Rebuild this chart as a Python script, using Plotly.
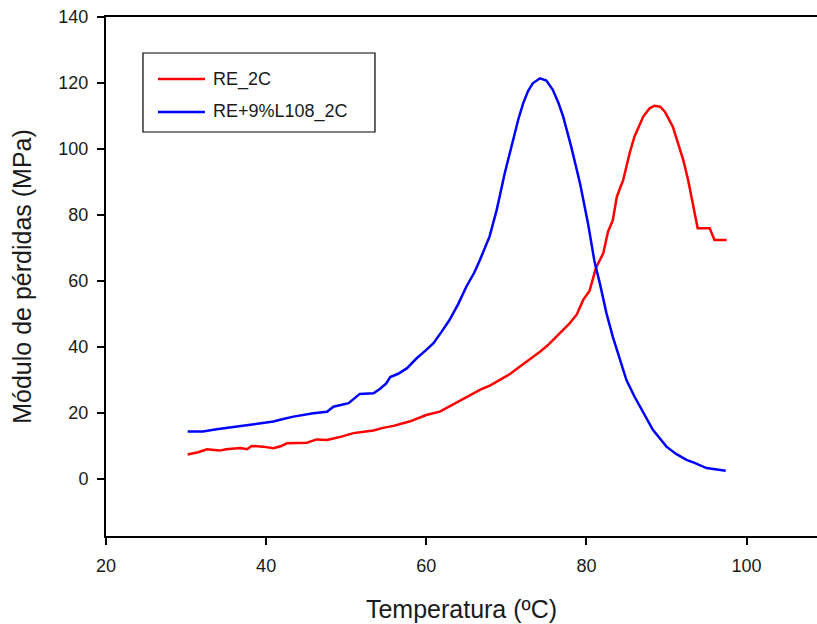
import plotly.graph_objects as go

# RE_2C
re_temp = [30.2, 31.5, 32.6, 33.5, 34.2, 35.0, 35.9, 36.8, 37.6, 38.2, 39.6, 40.9,
           41.8, 42.6, 43.9, 45.1, 46.3, 47.6, 49.2, 50.9, 52.2, 53.4, 54.6, 55.9,
           57.9, 59.0, 60.0, 61.7, 63.0, 64.2, 65.5, 66.7, 68.0, 69.2, 70.5, 71.7,
           73.0, 74.2, 75.2, 76.3, 77.1, 77.9, 78.8, 79.6, 80.4, 80.8, 81.2, 82.1,
           82.7, 83.3, 83.8, 84.6, 85.4, 86.0, 87.1, 87.9, 88.5, 89.2, 89.8, 90.8,
           91.5, 92.1, 92.7, 93.3, 93.9, 95.4, 96.0, 97.5]
re_mod = [7.3, 8.0, 8.9, 8.8, 8.5, 8.9, 9.2, 9.3, 8.9, 9.9, 9.7, 9.2,
          9.8, 10.7, 10.8, 10.9, 11.9, 11.7, 12.6, 13.8, 14.2, 14.6, 15.4, 16.0,
          17.3, 18.4, 19.3, 20.3, 22.0, 23.6, 25.2, 26.9, 28.3, 29.9, 31.8, 34.0,
          36.2, 38.5, 40.5, 43.1, 45.1, 47.1, 49.8, 54.2, 57.0, 60.5, 64.0, 68.3,
          74.9, 78.4, 85.5, 90.6, 98.7, 103.7, 109.8, 112.3, 113.1, 112.8, 111.3, 106.7,
          101.5, 96.6, 90.6, 83.5, 75.9, 75.9, 72.4, 72.4]

# RE+9%L108_2C
rl_temp = [30.2, 32.1, 33.8, 35.0, 36.7, 38.0, 39.2, 40.9, 42.0, 43.4, 45.9, 47.6,
           48.4, 50.3, 51.7, 53.4, 54.2, 55.0, 55.5, 56.5, 57.6, 58.8, 59.9, 60.9,
           61.9, 62.9, 64.0, 65.0, 66.0, 66.7, 67.9, 68.8, 69.8, 70.8, 71.5, 72.1,
           72.7, 73.3, 74.2, 75.0, 75.8, 76.5, 77.1, 78.1, 79.2, 80.2, 81.0, 81.7,
           82.5, 83.3, 83.8, 85.0, 86.0, 86.7, 88.3, 90.0, 91.2, 92.5, 93.5, 95.0,
           96.3, 97.4]
rl_mod = [14.3, 14.3, 15.0, 15.4, 15.8, 16.4, 16.8, 17.3, 18.0, 18.8, 19.8, 20.3,
          21.8, 22.9, 25.7, 25.9, 27.2, 28.9, 30.8, 31.8, 33.5, 36.5, 38.8, 41.1,
          44.5, 48.1, 53.0, 58.2, 62.5, 66.3, 73.4, 81.5, 92.6, 102.7, 109.0, 113.8,
          117.5, 119.9, 121.4, 120.7, 117.9, 114.0, 109.8, 100.7, 89.6, 77.4, 66.0, 59.0,
          50.2, 43.0, 39.0, 29.9, 24.9, 21.8, 14.8, 9.7, 7.5, 5.7, 4.8, 3.2,
          2.7, 2.4]

series_names = ["RE_2C", "RE+9%L108_2C"]
series_colors = ["#ff0000", "#0000ff"]

x_ticks = [20, 40, 60, 80, 100]
y_ticks = [0, 20, 40, 60, 80, 100, 120, 140]

FONT = "Liberation Sans, Arial, sans-serif"

fig = go.Figure()
fig.add_trace(go.Scatter(x=re_temp, y=re_mod, mode="lines", name=series_names[0],
                         line=dict(color=series_colors[0], width=2.5)))
fig.add_trace(go.Scatter(x=rl_temp, y=rl_mod, mode="lines", name=series_names[1],
                         line=dict(color=series_colors[1], width=2.5)))

# Legend box drawn in paper coordinates (SigmaPlot-style boxed legend)
fig.add_shape(type="rect", xref="paper", yref="paper",
              x0=0.052, x1=0.3783, y0=0.7784, y1=0.9306,
              line=dict(color="#000", width=1.2), fillcolor="white", layer="above")
leg_rows = [0.8805, 0.8170]
for name, color, yy in zip(series_names, series_colors, leg_rows):
    fig.add_shape(type="line", xref="paper", yref="paper",
                  x0=0.0731, x1=0.1392, y0=yy, y1=yy,
                  line=dict(color=color, width=2.5), layer="above")
    fig.add_annotation(xref="paper", yref="paper", x=0.1480, y=yy, text=name,
                       showarrow=False, xanchor="left", yanchor="middle",
                       font=dict(size=18, color="#1a1a1a"))

fig.update_layout(
    width=817, height=624,
    margin=dict(l=106, r=0, t=17, b=88),
    paper_bgcolor="white", plot_bgcolor="white",
    font=dict(family=FONT, color="#1a1a1a", size=18),
    showlegend=False,
    xaxis=dict(range=[20, 108.8], tickvals=x_ticks, showgrid=False, zeroline=False,
               showline=True, linecolor="#000", linewidth=2, mirror=True,
               ticks="outside", ticklen=7, tickwidth=2, tickcolor="#000",
               ticklabelstandoff=5,
               title=dict(text="Temperatura (ºC)", font=dict(size=25), standoff=26)),
    yaxis=dict(range=[-17.4, 140], tickvals=y_ticks, showgrid=False, zeroline=False,
               showline=True, linecolor="#000", linewidth=2, mirror=False,
               ticks="outside", ticklen=7, tickwidth=2, tickcolor="#000",
               ticklabelstandoff=5,
               title=dict(text="Módulo de pérdidas (MPa)", font=dict(size=25), standoff=20)),
)

fig.write_html("out.html")
